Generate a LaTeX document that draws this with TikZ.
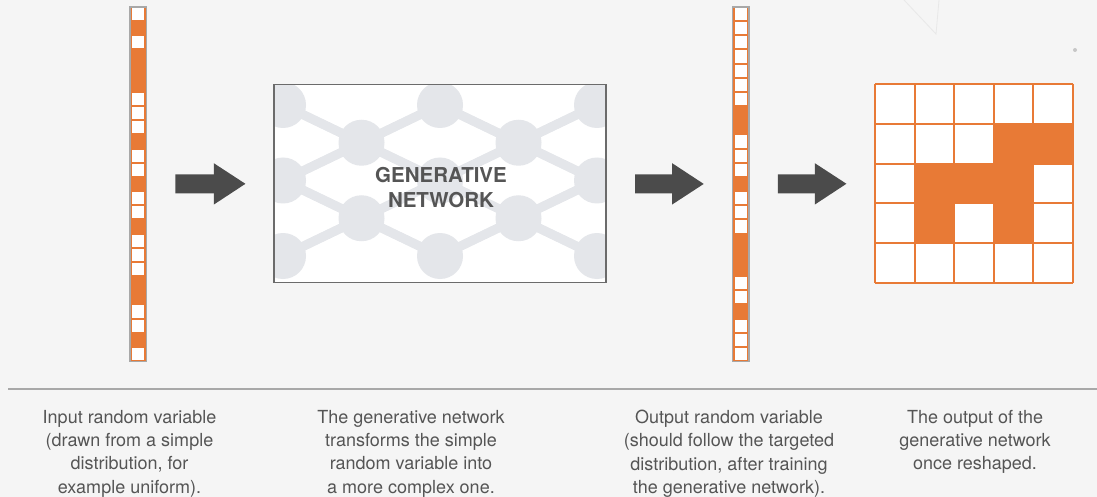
\documentclass[tikz,border=0pt]{standalone}
\usepackage{fontspec}
\setmainfont{TeX Gyre Heros}
\usetikzlibrary{arrows.meta}
\definecolor{bg}{HTML}{F5F5F5}
\definecolor{org}{HTML}{E87A36}
\definecolor{netgray}{HTML}{E4E6EA}
\definecolor{boxgray}{HTML}{6B6B6B}
\definecolor{arrgray}{HTML}{4B4B4B}
\definecolor{txtgray}{HTML}{555555}
\definecolor{rulegray}{HTML}{A8A8A8}
\tikzset{
  vecbox/.style={draw=rulegray, line width=0.8pt, fill=org, minimum width=16pt, minimum height=354pt, inner sep=0pt},
  bigarrow/.style={draw=arrgray, line width=19pt, -{Triangle[length=32pt,width=39pt]}, shorten <=29pt, shorten >=28pt},
  caption/.style={font=\fontsize{18pt}{23.3pt}\selectfont, align=center, text=txtgray, anchor=north, inner sep=0pt},
  netedge/.style={draw=netgray, line width=9pt},
}
\begin{document}
\begin{tikzpicture}[x=1pt,y=-1pt]
\useasboundingbox (0,0) rectangle (1097,497);
\fill[bg] (0,0) rectangle (1097,497);
% faint decoration
\draw[black!9, line width=0.8pt] (904,0) -- (936,34) -- (939,0);
\fill[black!22] (1075,50) circle (2);
% left vector
\node[vecbox] (lv) at (138,184) {};
\foreach \c [count=\i from 0] in {0,1,0,1,1,1,0,0,0,1,0,0,1,0,0,1,0,0,0,1,1,0,0,1,0}{
  \ifnum\c=0 \fill[white] (132,{7+\i*14.16+1}) rectangle ++(12,12.16); \fi
}
\draw[rulegray, line width=0.8pt] (lv.north west) rectangle (lv.south east);
% right vector
\node[vecbox] (rv) at (740.5,184) {};
\foreach \c [count=\i from 0] in {0,0,0,0,0,0,0,1,1,0,0,0,1,0,0,0,1,1,1,0,0,1,0,0,0}{
  \ifnum\c=0 \fill[white] (734.5,{7+\i*14.16+1}) rectangle ++(12,12.16); \fi
}
\draw[rulegray, line width=0.8pt] (rv.north west) rectangle (rv.south east);
% network box
\node[fill=white, minimum width=332pt, minimum height=198pt, inner sep=0pt] (net) at (440,183.5) {};
\begin{scope}
  \clip (net.north west) rectangle (net.south east);
  \foreach \i in {0,...,4}{
    \foreach \j in {0,...,4}{
      \pgfmathtruncatemacro\p{mod(\i+\j,2)}
      \ifnum\p=0
        \ifnum\i<4
          \ifnum\j<4 \draw[netedge] ({283+78.5*\i},{105+37.75*\j}) -- ({283+78.5*(\i+1)},{105+37.75*(\j+1)}); \fi
          \ifnum\j>0 \draw[netedge] ({283+78.5*\i},{105+37.75*\j}) -- ({283+78.5*(\i+1)},{105+37.75*(\j-1)}); \fi
        \fi
        \ifnum\i>0
          \ifnum\j<4 \draw[netedge] ({283+78.5*\i},{105+37.75*\j}) -- ({283+78.5*(\i-1)},{105+37.75*(\j+1)}); \fi
          \ifnum\j>0 \draw[netedge] ({283+78.5*\i},{105+37.75*\j}) -- ({283+78.5*(\i-1)},{105+37.75*(\j-1)}); \fi
        \fi
        \fill[netgray] ({283+78.5*\i},{105+37.75*\j}) circle (23);
      \fi
    }
  }
\end{scope}
\draw[boxgray, line width=1.5pt] (net.north west) rectangle (net.south east);
\node[font=\fontsize{20.5pt}{25pt}\selectfont\bfseries, text=txtgray, align=center] (nettext) at (441,187.5) {GENERATIVE\\NETWORK};
% output grid
\node[fill=white, minimum width=198pt, minimum height=199pt, inner sep=0pt] (grid) at (974,183.5) {};
\foreach \r/\k in {1/3,1/4,2/1,2/2,2/3,3/1,3/3}{
  \fill[org] ({875+39.6*\k},{84+39.8*\r}) rectangle ++(39.6,39.8);
}
\foreach \k in {0,...,5}{
  \draw[org, line width=2pt] ({875+39.6*\k},84) -- ({875+39.6*\k},283);
  \draw[org, line width=2pt] (875,{84+39.8*\k}) -- (1073,{84+39.8*\k});
}
% arrows
\draw[bigarrow] (lv) -- (net);
\draw[bigarrow] (net) -- (rv);
\draw[bigarrow] (rv) -- (grid);
% rule
\draw[rulegray, line width=1.2pt] (8,389) -- (1097,389);
% captions
\node[caption] (c1) at (129.5,410) {Input random variable\\(drawn from a simple\\distribution, for\\example uniform).};
\node[caption] (c2) at (411,410) {The generative network\\transforms the simple\\random variable into\\a more complex one.};
\node[caption] (c3) at (729,410) {Output random variable\\(should follow the targeted\\distribution, after training\\the generative network).};
\node[caption] (c4) at (975,410) {The output of the\\generative network\\once reshaped.};
\end{tikzpicture}
\end{document}
